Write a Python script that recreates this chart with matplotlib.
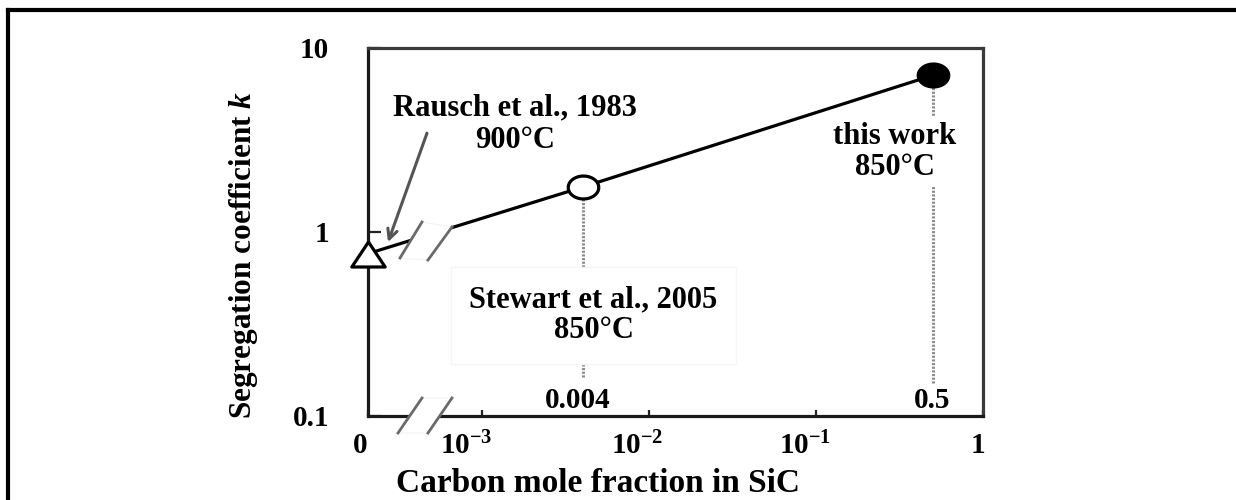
import numpy as np
import matplotlib
matplotlib.use("Agg")
import matplotlib.pyplot as plt
import matplotlib.transforms as mtransforms
from matplotlib.patches import Polygon
from matplotlib.lines import Line2D
from matplotlib.ticker import FixedLocator, NullLocator, FixedFormatter

# ---------------- data ----------------
sources = ["Rausch et al., 1983", "Stewart et al., 2005", "this work"]
temperatures = ["900°C", "850°C", "850°C"]
carbon_fraction = [0.0, 0.004, 0.5]
seg_coeff = [0.76, 1.75, 7.1]
fraction_labels = ["0.004", "0.5"]
x_ticks = [0, 1e-3, 1e-2, 1e-1, 1]
x_tick_labels = ["0", r"$10^{-3}$", r"$10^{-2}$", r"$10^{-1}$", "1"]
y_ticks = [0.1, 1, 10]
y_tick_labels = ["0.1", "1", "10"]
x_title = "Carbon mole fraction in SiC"
y_title = r"Segregation coefficient $\mathit{k}$"

# ---------------- style ----------------
plt.rcParams["font.family"] = ["Liberation Serif", "DejaVu Serif"]
plt.rcParams["font.weight"] = "bold"
plt.rcParams["axes.labelweight"] = "bold"
plt.rcParams["mathtext.fontset"] = "custom"
plt.rcParams["mathtext.rm"] = "Liberation Serif:bold"
plt.rcParams["mathtext.bf"] = "Liberation Serif:bold"
plt.rcParams["mathtext.it"] = "Liberation Serif:italic:bold"

W, H = 1236, 500
fig = plt.figure(figsize=(W / 100, H / 100), dpi=100)
AX_L, AX_R, AX_T, AX_B = 368, 983, 48, 415.5
ax = fig.add_axes([AX_L / W, 1 - AX_B / H, (AX_R - AX_L) / W, (AX_B - AX_T) / H])

# broken x axis: 0 on the left, then a log scale from ~10^-3.2 to 1
ZERO_POS = -3.683
BREAK_LOG = -3.2
BREAK_X = 10 ** BREAK_LOG


def fwd(x):
    x = np.asarray(x, dtype=float)
    safe = np.where(x >= BREAK_X, x, BREAK_X)
    lg = np.log10(safe)
    lin = ZERO_POS + x / BREAK_X * (BREAK_LOG - ZERO_POS)
    return np.where(x >= BREAK_X, lg, lin)


def inv(y):
    y = np.asarray(y, dtype=float)
    safe = np.clip(y, BREAK_LOG, 5)
    pw = 10.0 ** safe
    lin = (y - ZERO_POS) / (BREAK_LOG - ZERO_POS) * BREAK_X
    return np.where(y >= BREAK_LOG, pw, lin)


ax.set_xscale("function", functions=(fwd, inv))
ax.set_yscale("log")
ax.set_xlim(0, 1)
ax.set_ylim(0.1, 10)

# data line and markers
ax.plot(carbon_fraction, seg_coeff, color="black", lw=2.3, zorder=3,
        solid_capstyle="round", clip_on=False)

tri = [(0, 0.75), (-1, -0.75), (1, -0.75), (0, 0.75)]
th = np.linspace(0, 2 * np.pi, 61)
ell = list(zip(np.cos(th), 0.75 * np.sin(th)))
ax.plot(carbon_fraction[0], seg_coeff[0], ls="none", marker=tri, ms=24,
        mfc="white", mec="black", mew=2.3, clip_on=False, zorder=7)
ax.plot(carbon_fraction[1], seg_coeff[1], ls="none", marker=ell, ms=22,
        mfc="white", mec="black", mew=2.3, clip_on=False, zorder=7)
ax.plot(carbon_fraction[2], seg_coeff[2], ls="none", marker=ell, ms=22,
        mfc="black", mec="black", mew=2.3, clip_on=False, zorder=7)

# dotted drop lines
ax.vlines(carbon_fraction[1:], [0.162, 0.150], seg_coeff[1:], colors="#8c8c8c",
          linestyles=(0, (0.7, 0.5)), lw=2.2, zorder=2)

# annotations
ax.annotate(sources[0] + "\n" + temperatures[0], xy=(carbon_fraction[0], seg_coeff[0]),
            xytext=(147, 129.5), textcoords="offset pixels", ha="center", va="center",
            fontsize=22, linespacing=1.15, zorder=8, annotation_clip=False)
ax.annotate(sources[1] + "\n" + temperatures[1], xy=(carbon_fraction[1], seg_coeff[1]),
            xytext=(11, -128), textcoords="offset pixels", ha="center", va="center",
            fontsize=22, linespacing=1.1, zorder=4,
            bbox=dict(boxstyle="square,pad=0.6", fc="white", ec="#f6f6f6", lw=1))
ax.annotate(sources[2] + "\n" + temperatures[2], xy=(carbon_fraction[2], seg_coeff[2]),
            xytext=(-38, -76.5), textcoords="offset pixels", ha="center", va="center",
            fontsize=22, linespacing=1.1, zorder=4,
            bbox=dict(boxstyle="square,pad=0.15", fc="white", ec="none"))

# arrow to Rausch point
tip = mtransforms.offset_copy(ax.transData, fig=fig, x=20, y=11.5, units="dots")
tail = mtransforms.offset_copy(ax.transData, fig=fig, x=59, y=120.5, units="dots")
ax.annotate("", xy=(carbon_fraction[0], seg_coeff[0]), xycoords=tip,
            xytext=(carbon_fraction[0], seg_coeff[0]), textcoords=tail,
            arrowprops=dict(arrowstyle="->,head_length=0.7,head_width=0.35",
                            color="#555555", lw=2.2, shrinkA=0, shrinkB=0),
            zorder=8, annotation_clip=False)

# fraction labels near bottom axis
for xv, lab, dx in zip(carbon_fraction[1:], fraction_labels, [-5, -1]):
    ax.annotate(lab, xy=(xv, 0.042), xycoords=ax.get_xaxis_transform(),
                xytext=(dx, 0), textcoords="offset pixels", ha="center", va="center",
                fontsize=21, zorder=4)

# ticks
ax.xaxis.set_major_locator(FixedLocator(x_ticks))
ax.xaxis.set_major_formatter(FixedFormatter(x_tick_labels))
ax.xaxis.set_minor_locator(NullLocator())
ax.yaxis.set_major_locator(FixedLocator(y_ticks))
ax.yaxis.set_major_formatter(FixedFormatter(y_tick_labels))
ax.yaxis.set_minor_locator(NullLocator())
ax.tick_params(axis="x", direction="in", length=4, width=1.6, pad=12,
               labelsize=21, color="#222222")
ax.tick_params(axis="y", direction="in", length=9, width=1.6, pad=28,
               labelsize=21, color="#222222")
for lbl, dx in zip(ax.get_xticklabels(), [-8, -16, -12, -11, -5]):
    lbl.set_transform(lbl.get_transform() +
                      mtransforms.ScaledTranslation(dx / 100, 0, fig.dpi_scale_trans))

for side in ["left", "bottom"]:
    ax.spines[side].set_color("#1a1a1a")
    ax.spines[side].set_linewidth(2.3)
for side in ["top", "right"]:
    ax.spines[side].set_color("#3a3a3a")
    ax.spines[side].set_linewidth(2.3)

# axis titles
ax.set_xlabel(x_title, fontsize=24, fontweight="bold")
ax.xaxis.label.set_va("center")
ax.xaxis.set_label_coords(0.374, -0.184)
ax.set_ylabel(y_title, fontsize=22.5, fontweight="bold")
ax.yaxis.label.set_va("center")
ax.yaxis.set_label_coords(-0.203, 0.437)


# axis break decorations (in axes fraction)
def pxa(px, py):
    return ((px - AX_L) / (AX_R - AX_L), (AX_B - py) / (AX_B - AX_T))


for quad in ([(398, 433), (422, 398), (452, 398), (428, 433)],
             [(400, 258), (422, 222), (452, 227), (428, 260)]):
    pts = [pxa(*p) for p in quad]
    ax.add_patch(Polygon(pts, closed=True, fc="white", ec="#f4f4f4", lw=0.8,
                         transform=ax.transAxes, clip_on=False, zorder=5))
    for a, b in ((pts[0], pts[1]), (pts[3], pts[2])):
        ax.add_line(Line2D([a[0], b[0]], [a[1], b[1]], color="#6a6a6a", lw=2.0,
                           transform=ax.transAxes, clip_on=False, zorder=6))

# outer frame
fig.add_artist(Line2D([8 / W, 8 / W], [-0.05, 1 - 9.5 / H], transform=fig.transFigure,
                      color="black", lw=3, solid_capstyle="projecting"))
fig.add_artist(Line2D([8 / W, 1.05], [1 - 9.5 / H, 1 - 9.5 / H], transform=fig.transFigure,
                      color="black", lw=3, solid_capstyle="projecting"))

fig.savefig("out.png", dpi=100)
